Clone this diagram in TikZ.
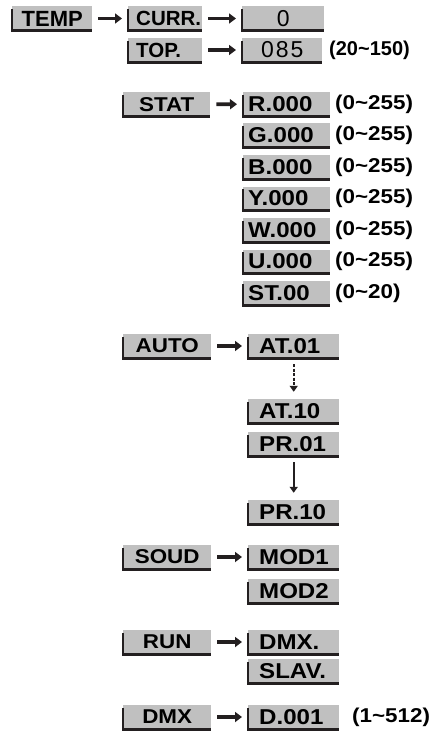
\documentclass[tikz,border=0pt]{standalone}
\usepackage{fontspec}
\setmainfont{Liberation Sans}[FakeStretch=1.12]
\newfontfamily\plainsans{Liberation Sans}
\usetikzlibrary{arrows.meta}
\definecolor{panelgray}{RGB}{192,192,192}
\definecolor{edgeblack}{RGB}{35,31,32}

\begin{document}
\begin{tikzpicture}[x=1pt, y=-1pt, font=\bfseries]
\tikzset{
  panel/.style={fill=panelgray, inner sep=0pt, minimum height=24pt, anchor=west},
  menu/.style={panel, minimum width=88pt, font=\fontsize{20}{24}\selectfont\bfseries},
  item/.style={panel, align=left, inner xsep=#1, font=\fontsize{21.5}{24}\selectfont\bfseries},
  topitem/.style={panel, font=\plainsans\fontsize{20.5}{24}\selectfont\bfseries},
  valbox/.style={panel, minimum width=82pt, font=\plainsans\fontsize{23}{26}\selectfont\mdseries},
  rangetag/.style={anchor=west, inner sep=0pt, font=\fontsize{20}{24}\selectfont\bfseries},
  pointer/.style={-{Triangle[length=7pt,width=10pt]}, line width=3.8pt, edgeblack, shorten <=6pt, shorten >=6pt},
  stepdown/.style={-{Triangle[length=6pt,width=8pt]}, line width=2pt, edgeblack, shorten <=6pt, shorten >=7pt},
  ledge/.style={line width=2.8pt, edgeblack}
}
\useasboundingbox (0,0) rectangle (434,733);

% TEMP
\node[topitem, minimum width=80pt, font=\plainsans\fontsize{22}{24}\selectfont\bfseries] (temp) at (12,18.5) {TEMP};
\node[topitem, text width=58pt, align=left, inner xsep=8pt] (curr) at (128,18.5) {CURR.};
\node[topitem, text width=58pt, align=left, inner xsep=8pt] (top)  at (128,50) {TOP.};
\node[valbox] (cval) at (242,18.5) {0};
\node[valbox, minimum width=80pt] (tval) at (242,50) {0\kern2pt 8\kern2pt 5};
\node[rangetag, font=\plainsans\fontsize{20}{24}\selectfont\bfseries] (trng) at (329,50) {(20\textasciitilde150)};

% STAT
\node[menu, minimum width=87pt] (stat) at (123,104.5) {STAT};
\node[item=5pt, text width=77pt] (rch)  at (243,104)   {R.000};
\node[item=5pt, text width=77pt] (gch)  at (243,135.5) {G.000};
\node[item=5pt, text width=77pt] (bch)  at (243,167)   {B.000};
\node[item=5pt, text width=77pt] (ych)  at (243,198.5) {Y.000};
\node[item=5pt, text width=77pt] (wch)  at (243,230)   {W.000};
\node[item=5pt, text width=77pt] (uch)  at (243,261.5) {U.000};
\node[item=5pt, text width=77pt] (stch) at (243,293)   {ST.00};
\node[rangetag] (rrng)  at (335,104)   {(0\textasciitilde255)};
\node[rangetag] (grng)  at (335,135.5) {(0\textasciitilde255)};
\node[rangetag] (brng)  at (335,167)   {(0\textasciitilde255)};
\node[rangetag] (yrng)  at (335,198.5) {(0\textasciitilde255)};
\node[rangetag] (wrng)  at (335,230)   {(0\textasciitilde255)};
\node[rangetag] (urng)  at (335,261.5) {(0\textasciitilde255)};
\node[rangetag] (strng) at (335,293)   {(0\textasciitilde20)};

% AUTO
\node[menu] (auto) at (123,346) {AUTO};
\node[item=11pt, text width=69pt] (at01) at (248,346) {AT.01};
\node[item=11pt, text width=69pt] (at10) at (248,411) {AT.10};
\node[item=11pt, text width=69pt] (pr01) at (248,444) {PR.01};
\node[item=11pt, text width=69pt] (pr10) at (248,512) {PR.10};

% SOUD, RUN, DMX
\node[menu] (soud) at (123,557) {SOUD};
\node[item=11pt, text width=69pt] (mod1) at (248,557) {MOD1};
\node[item=11pt, text width=69pt] (mod2) at (248,591) {MOD2};
\node[menu] (run) at (123,642) {RUN};
\node[item=11pt, text width=69pt] (dmxm) at (248,642) {DMX.};
\node[item=11pt, text width=69pt] (slav) at (248,671) {SLAV.};
\node[menu] (dmx) at (123,717) {DMX};
\node[item=11pt, text width=69pt] (d001) at (248,717) {D.001};
\node[rangetag] (drng) at (352,717) {(1\textasciitilde512)};

% shadow edges
\foreach \n in {temp,curr,top,cval,tval,stat,rch,gch,bch,ych,wch,uch,stch,
                auto,at01,at10,pr01,pr10,soud,mod1,mod2,run,dmxm,slav,dmx,d001}
  \draw[ledge] ([yshift=-3pt]\n.north west) |- (\n.south east);

\draw[pointer] (temp) -- (curr);
\draw[pointer] (curr) -- (cval);
\draw[pointer] (top) -- (tval);
\draw[pointer] (stat) -- (rch);
\draw[pointer] (auto) -- (at01);
\draw[pointer] (soud) -- (mod1);
\draw[pointer] (run) -- (dmxm);
\draw[pointer] (dmx) -- (d001);
\draw[stepdown, dash pattern=on 3pt off 1.5pt] (at01) -- (at10);
\draw[stepdown] (pr01) -- (pr10);

\end{tikzpicture}
\end{document}
